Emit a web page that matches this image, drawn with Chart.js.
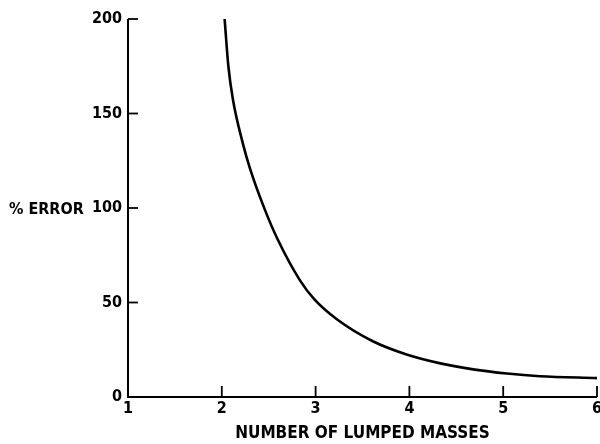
<!DOCTYPE html>
<html>
<head>
<meta charset="utf-8">
<script src="https://cdn.jsdelivr.net/npm/chart.js@4"></script>
<style>
html,body{margin:0;padding:0;background:#fff;}
#wrap{width:600px;height:444px;}
</style>
</head>
<body>
<div id="wrap"><canvas id="c" width="600" height="444"></canvas></div>
<script>
const xValues = [2.03, 2.07, 2.12, 2.22, 2.3, 2.46, 2.59, 2.83, 2.99, 3.23, 3.61, 3.97, 4.33, 4.68, 5.04, 5.39, 6.0];
const errorValues = [200, 175, 157, 135, 121, 99, 84, 62, 51.5, 41, 29.5, 22.5, 17.8, 14.6, 12.4, 11.0, 10.0];
const xTicks = [1, 2, 3, 4, 5, 6];
const yTicks = [0, 50, 100, 150, 200];
const xTitle = "NUMBER OF LUMPED MASSES";
const yTitle = "% ERROR";

const FONT = "'DejaVu Sans Condensed', 'Liberation Sans Narrow', sans-serif";

const points = xValues.map((x, i) => ({x: x, y: errorValues[i]}));

const axesPlugin = {
  id: 'axesPlugin',
  afterDraw(chart) {
    const ctx = chart.ctx;
    const xs = chart.scales.x, ys = chart.scales.y;
    const a = chart.chartArea;
    ctx.save();
    ctx.strokeStyle = '#000';
    ctx.lineWidth = 2;
    ctx.beginPath();
    ctx.moveTo(a.left, ys.getPixelForValue(200));
    ctx.lineTo(a.left, a.bottom);
    ctx.lineTo(xs.getPixelForValue(6), a.bottom);
    ctx.stroke();
    ctx.lineWidth = 1.8;
    yTicks.forEach(v => {
      if (v === 0) return;
      const py = ys.getPixelForValue(v);
      ctx.beginPath(); ctx.moveTo(a.left, py); ctx.lineTo(a.left + 10, py); ctx.stroke();
    });
    xTicks.forEach(v => {
      if (v === 1) return;
      const px = xs.getPixelForValue(v);
      ctx.beginPath(); ctx.moveTo(px, a.bottom); ctx.lineTo(px, a.bottom - 11); ctx.stroke();
    });
    ctx.fillStyle = '#000';
    ctx.font = "bold 16px " + FONT;
    ctx.textAlign = 'left';
    ctx.textBaseline = 'middle';
    ctx.fillText(yTitle, 9, ys.getPixelForValue(100) + 2);
    ctx.restore();
  }
};

new Chart(document.getElementById('c'), {
  type: 'scatter',
  data: {
    datasets: [{
      data: points,
      showLine: true,
      borderColor: '#000',
      borderWidth: 2.6,
      pointRadius: 0,
      cubicInterpolationMode: 'monotone',
      fill: false
    }]
  },
  options: {
    responsive: false,
    animation: false,
    devicePixelRatio: 1,
    layout: {padding: {left: 0, right: 3, top: 19, bottom: 0}},
    plugins: {legend: {display: false}, tooltip: {enabled: false}, title: {display: false}},
    scales: {
      x: {
        type: 'linear', min: 1, max: 6,
        afterBuildTicks: s => { s.ticks = xTicks.map(v => ({value: v})); },
        grid: {display: false, drawTicks: false},
        border: {display: false},
        ticks: {color: '#000', font: {family: FONT, size: 16, weight: 'bold'}, padding: 2, maxRotation: 0},
        title: {display: true, text: xTitle, color: '#000', font: {family: FONT, size: 17, weight: 'bold'}, padding: {top: 3, bottom: 0}},
        afterFit: s => { s.height = 47; s.paddingRight = 0; s.paddingLeft = 0; }
      },
      y: {
        type: 'linear', min: 0, max: 200,
        afterBuildTicks: s => { s.ticks = yTicks.map(v => ({value: v})); },
        grid: {display: false, drawTicks: false},
        border: {display: false},
        ticks: {color: '#000', font: {family: FONT, size: 16, weight: 'bold'}, padding: 6},
        afterFit: s => { s.width = 128; s.paddingTop = 0; s.paddingBottom = 0; }
      }
    }
  },
  plugins: [axesPlugin]
});
</script>
</body>
</html>
